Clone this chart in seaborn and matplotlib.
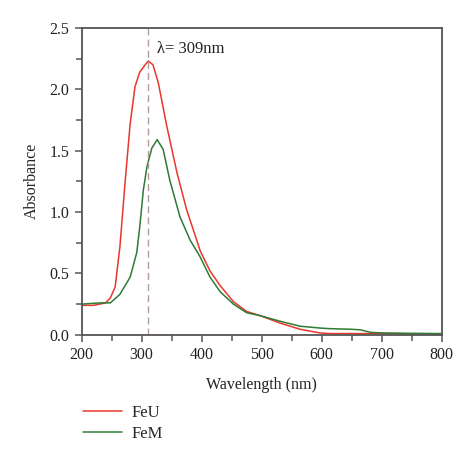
import pandas as pd
import seaborn as sns
import matplotlib.pyplot as plt
from matplotlib.ticker import MultipleLocator

# FeU spectrum
wl_feu = [200, 220, 240, 248, 256, 264, 272, 281, 289, 297, 306, 311, 319, 328,
          342, 359, 375, 398, 414, 431, 453, 475, 498, 531, 564, 597, 614,
          650, 700, 750, 800]
abs_feu = [0.24, 0.24, 0.26, 0.30, 0.39, 0.72, 1.21, 1.72, 2.02, 2.14, 2.20, 2.23,
           2.20, 2.05, 1.70, 1.32, 1.02, 0.68, 0.52, 0.40, 0.27, 0.19, 0.155,
           0.095, 0.045, 0.015, 0.01, 0.01, 0.01, 0.008, 0.008]

# FeM spectrum
wl_fem = [200, 231, 248, 264, 281, 292, 297, 303, 309, 317, 326, 336, 347, 364,
          381, 397, 414, 431, 453, 475, 498, 531, 564, 597, 614, 650, 665, 681,
          700, 750, 800]
abs_fem = [0.25, 0.26, 0.26, 0.33, 0.47, 0.67, 0.88, 1.18, 1.37, 1.52, 1.59, 1.51,
           1.26, 0.96, 0.77, 0.64, 0.47, 0.35, 0.25, 0.18, 0.155, 0.11, 0.07, 0.055,
           0.05, 0.045, 0.04, 0.02, 0.015, 0.012, 0.01]

peak_wl = 310
peak_label = 'λ= 309nm'

dataFrame = pd.concat([
    pd.DataFrame({'Wavelength': wl_feu, 'Absorbance': abs_feu, 'Sample': 'FeU'}),
    pd.DataFrame({'Wavelength': wl_fem, 'Absorbance': abs_fem, 'Sample': 'FeM'}),
])

sns.set_theme(style="ticks")
plt.rcParams['font.family'] = ['Liberation Serif', 'DejaVu Serif']
spine_col = '#555555'

fig = plt.figure(figsize=(4.74, 4.58), dpi=100)
ax = fig.add_axes([0.172, 0.269, 0.76, 0.670])

sns.lineplot(data=dataFrame, x='Wavelength', y='Absorbance', hue='Sample',
             palette={'FeU': '#e8372c', 'FeM': '#2f7a34'}, linewidth=1.1,
             estimator=None, sort=False, ax=ax)

ax.axvline(peak_wl, color='#b59c9c', linestyle=(0, (5, 3)), linewidth=1.0)
ax.text(peak_wl + 16, 2.26, peak_label, fontsize=12, color='#222222', va='bottom')

ax.set_xlim(200, 800)
ax.set_ylim(0, 2.5)
ax.xaxis.set_major_locator(MultipleLocator(100))
ax.xaxis.set_minor_locator(MultipleLocator(50))
ax.yaxis.set_major_locator(MultipleLocator(0.5))
ax.yaxis.set_minor_locator(MultipleLocator(0.25))
ax.yaxis.set_major_formatter(plt.FormatStrFormatter('%.1f'))
ax.tick_params(which='major', direction='out', length=5, width=1.1, color=spine_col,
               labelsize=11.5, labelcolor='#222222', pad=4)
ax.tick_params(which='minor', direction='out', length=4, width=1.1, color=spine_col)
for s in ax.spines.values():
    s.set_color(spine_col)
    s.set_linewidth(1.3)

ax.set_xlabel('Wavelength (nm)', fontsize=11.5, color='#222222', labelpad=10)
ax.set_ylabel('Absorbance', fontsize=11.5, color='#222222', labelpad=7)

handles, labels = ax.get_legend_handles_labels()
ax.get_legend().remove()
fig.legend(handles, labels, loc='upper left', bbox_to_anchor=(0.162, 0.13),
           frameon=False, fontsize=12, handlelength=2.3, handletextpad=0.6,
           labelspacing=0.3, borderaxespad=0)

plt.savefig('out.png', dpi=100)
